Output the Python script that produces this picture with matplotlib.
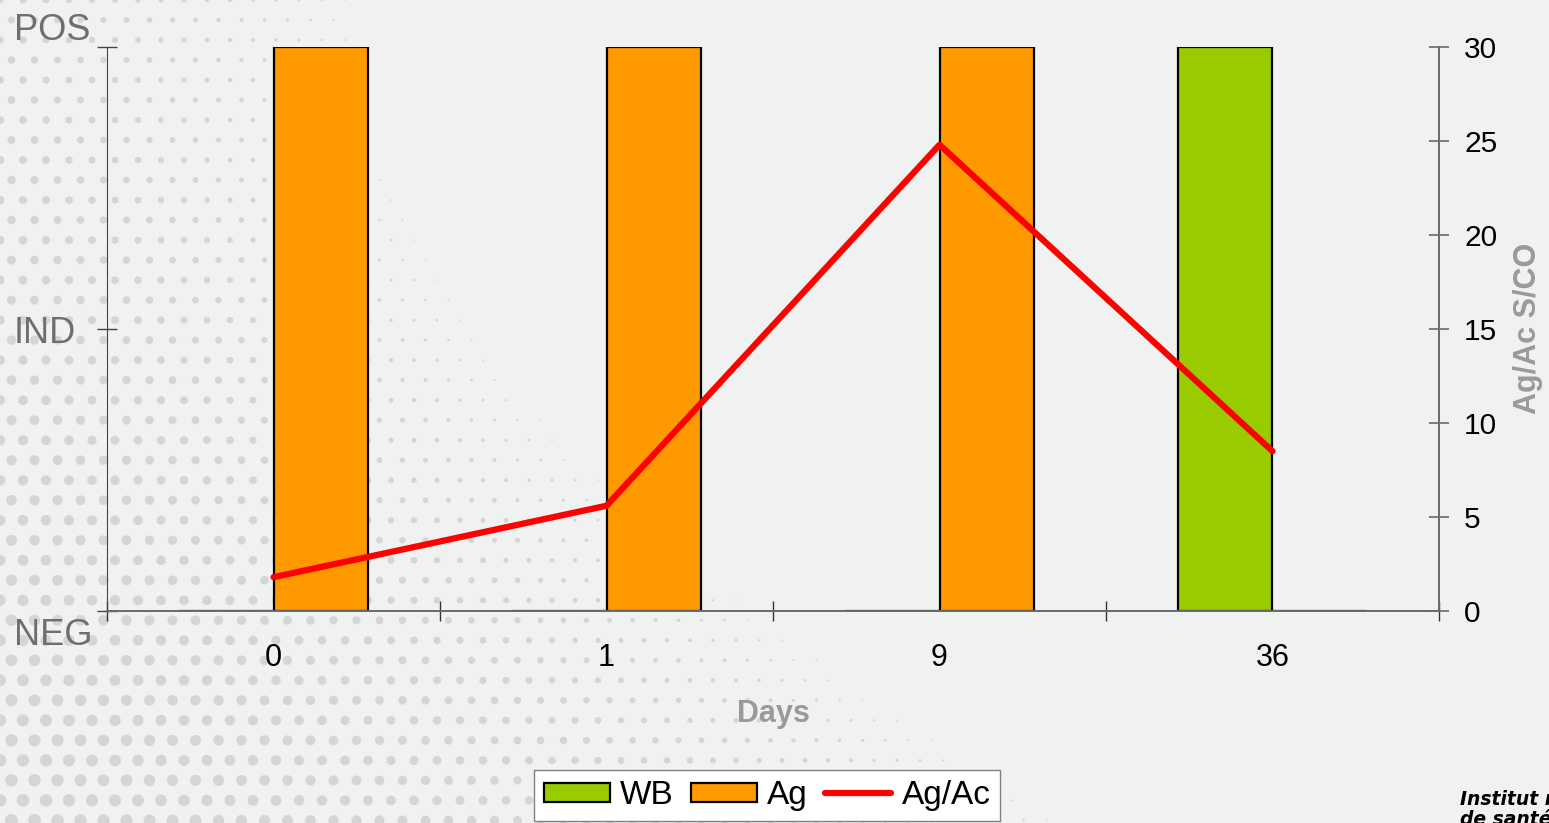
import matplotlib.pyplot as plt
import numpy as np

# --- Data ---
days = ['0', '1', '9', '36']
wb_status = [0, 0, 0, 2]          # 0 = NEG, 1 = IND, 2 = POS
ag_status = [2, 2, 2, 0]
ag_ac_sco = [1.8, 5.6, 24.8, 8.5]
status_labels = ['NEG', 'IND', 'POS']
sco_ticks = [0, 5, 10, 15, 20, 25, 30]

# --- Style ---
plt.rcParams['font.family'] = ['Liberation Sans', 'DejaVu Sans']
bg = '#f0f1f1'
axis_grey = '#6a6a6a'
green = '#99cc00'
orange = '#ff9900'
red = '#ff0000'

W, H = 1549, 823
fig = plt.figure(figsize=(W / 100, H / 100), dpi=100, facecolor=bg)

# halftone dot texture in the background
bgax = fig.add_axes([0, 0, 1, 1], zorder=-10)
bgax.set_xlim(0, W)
bgax.set_ylim(H, 0)
bgax.axis('off')
step = 23
gx, gy = [], []
for j, yy in enumerate(np.arange(0, H + step, step * 0.87)):
    off = (step / 2) if j % 2 else 0
    for xx in np.arange(-off, W, step):
        gx.append(xx)
        gy.append(yy)
gx = np.array(gx)
gy = np.array(gy)
reach = 380 + 720 * (gy / H) ** 2
f = np.clip(1 - gx / reach, 0, 1) ** 0.6 * (0.55 + 0.45 * gy / H)
diam = 13 * f
keep = diam > 1.5
bgax.scatter(gx[keep], gy[keep], s=(diam[keep] * 0.72) ** 2, color='#d3d5d7',
             linewidths=0)

# --- Main axes ---
x = np.arange(len(days))
bw = 0.285
ax = fig.add_axes([107 / W, 1 - 611 / H, (1439 - 107) / W, (611 - 47) / H])
ax.set_facecolor('none')
ax.bar(x - bw / 2, wb_status, width=bw, color=green, edgecolor='black',
       linewidth=1.6, label='WB', zorder=2)
ax.bar(x + bw / 2, ag_status, width=bw, color=orange, edgecolor='black',
       linewidth=1.6, label='Ag', zorder=2)
ax.set_xlim(-0.5, len(days) - 0.5)
ax.set_ylim(0, 2)

ax.set_xticks(np.arange(-0.5, len(days)), labels=[])
ax.set_xticks(x, labels=days, minor=True)
ax.tick_params(axis='x', which='major', direction='inout', length=14,
               width=1, color='#333333')
ax.tick_params(axis='x', which='minor', length=0, pad=23, labelsize=22)
ax.set_yticks([0, 1, 2], labels=[])
ax.tick_params(axis='y', direction='inout', length=14, width=1,
               color='#444444')
for side in ['top', 'right']:
    ax.spines[side].set_visible(False)
ax.spines['left'].set_color('#444444')
ax.spines['bottom'].set_color(axis_grey)
ax.spines['bottom'].set_linewidth(1.4)

# status labels on the left
for lab, yb in zip(status_labels, [645, 343, 40]):
    fig.text(14 / W, 1 - yb / H, lab, fontsize=26, color='#6e6e6e',
             ha='left', va='baseline')

# --- Ag/Ac ratio on the right axis ---
ax2 = ax.twinx()
ax2.plot(x, ag_ac_sco, color=red, linewidth=4.5, solid_capstyle='round',
         solid_joinstyle='round', label='Ag/Ac', zorder=3)
ax2.set_ylim(0, 30)
ax2.set_yticks(sco_ticks)
ax2.tick_params(axis='y', direction='inout', length=14, width=1.2,
                color=axis_grey, labelsize=21.5, pad=11)
for side in ['top', 'left', 'bottom']:
    ax2.spines[side].set_visible(False)
ax2.spines['right'].set_color(axis_grey)
ax2.spines['right'].set_linewidth(1.4)

fig.text(1528 / W, 1 - 328 / H, 'Ag/Ac S/CO', rotation=90, fontsize=22,
         fontweight='bold', color='#9a9a9a', ha='center', va='center')
fig.text(773 / W, 1 - 714 / H, 'Days', fontsize=22, fontweight='bold',
         color='#9a9a9a', ha='center', va='center')

# --- Legend ---
h1, l1 = ax.get_legend_handles_labels()
h2, l2 = ax2.get_legend_handles_labels()
leg = fig.legend(h1 + h2, l1 + l2, ncol=3, loc='upper center',
                 bbox_to_anchor=(767 / W, 1 - 770 / H), fontsize=24,
                 frameon=True, fancybox=False, framealpha=1,
                 handlelength=2.0, handleheight=0.5, handletextpad=0.3,
                 columnspacing=0.5, borderpad=0.3, borderaxespad=0)
leg.get_frame().set_edgecolor('#808080')
leg.get_frame().set_linewidth(1.0)

# logo text, running off the right edge
logo_font = dict(fontsize=13.5, fontweight='bold', fontstyle='italic',
                 family='DejaVu Sans', color='black', ha='left',
                 va='baseline')
fig.text(1460 / W, 1 - 805 / H, 'Institut national', **logo_font)
fig.text(1460 / W, 1 - 825 / H, 'de santé publique', **logo_font)

fig.savefig('out.png', dpi=100, facecolor=bg)
